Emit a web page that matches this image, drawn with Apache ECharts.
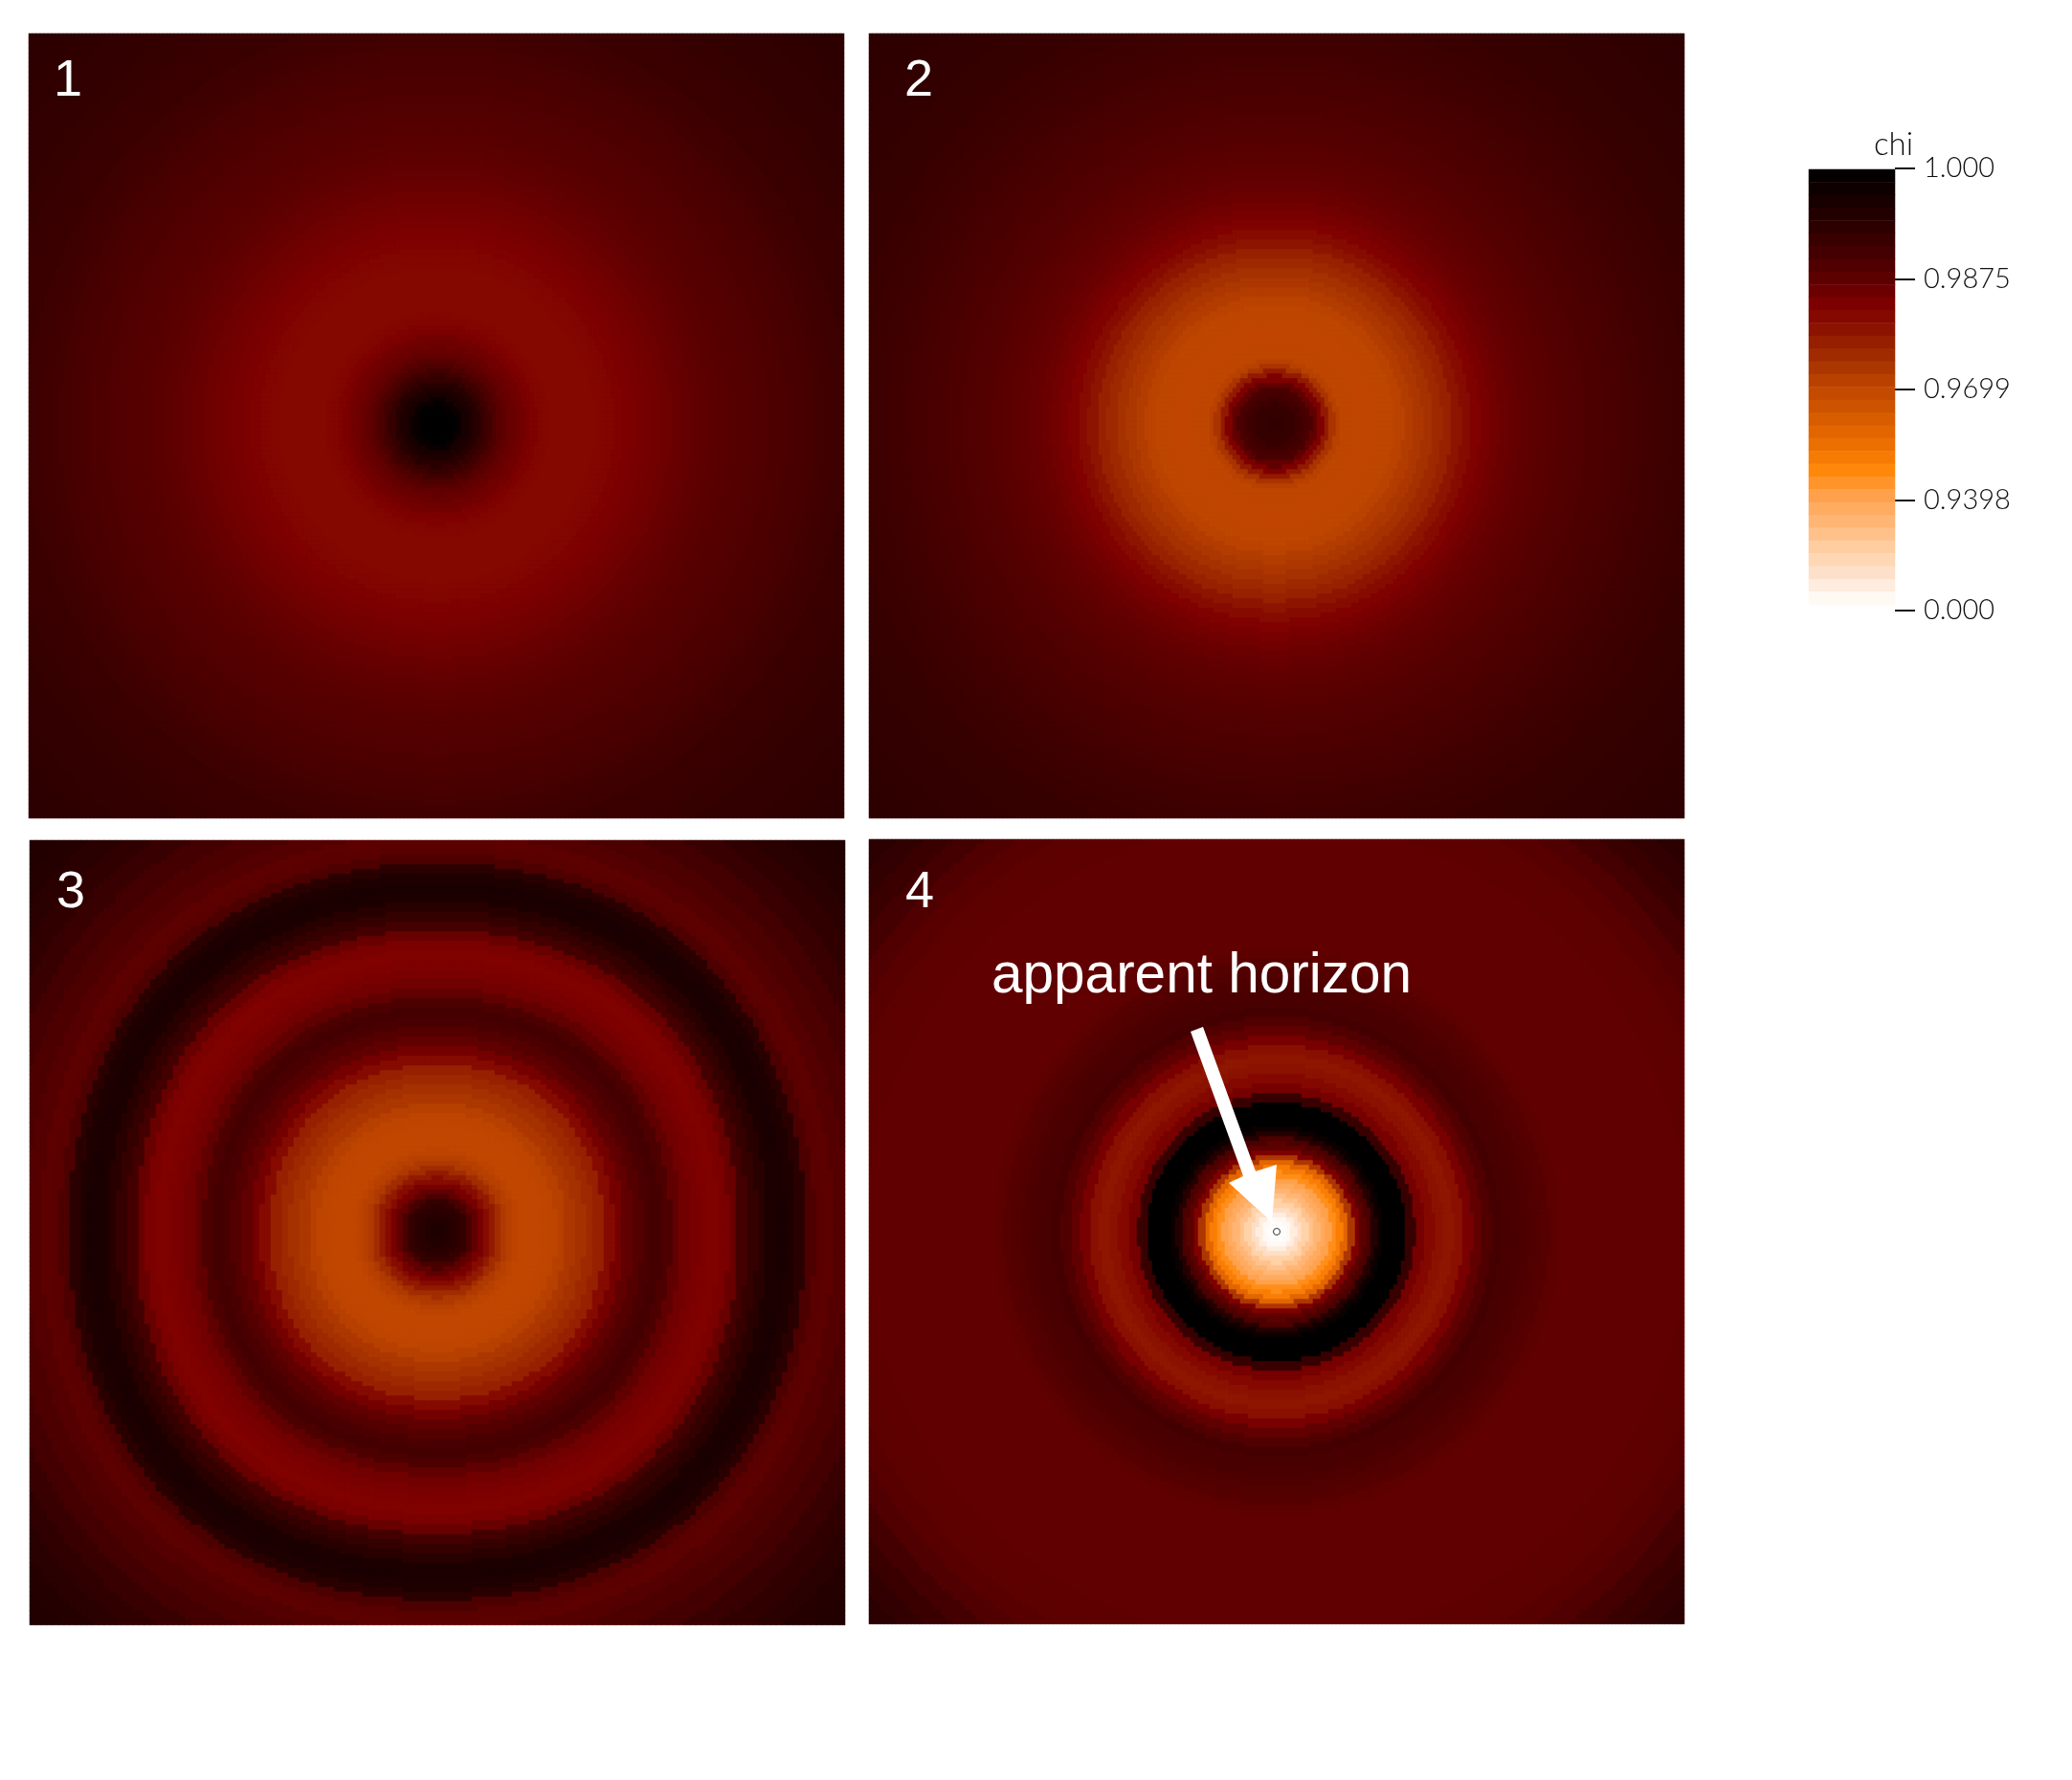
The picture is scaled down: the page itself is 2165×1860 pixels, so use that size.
<!DOCTYPE html>
<html style="height: 100%">
<head>
<meta charset="utf-8">
<script src="https://cdn.jsdelivr.net/npm/echarts@6/dist/echarts.min.js"></script>
</head>
<body style="height: 100%; margin: 0; background: #fff">
<div id="main" style="width: 2165px; height: 1860px;"></div>
<script type="text/javascript">
// colorbar ticks, evenly spaced on the bar but not in value
var tickLabels = ['1.000', '0.9875', '0.9699', '0.9398', '0.000'];
var tickValues = [1, 0.9875, 0.9699, 0.9398, 0];
var scaleColors = ['#000000', '#150000', '#2a0000', '#430000', '#5c0000', '#7e0000', '#8e1600', '#a43000', '#bf4600',
    '#d45800', '#ea6c00', '#ff8606', '#ffa04a', '#ffb778', '#ffd0a4', '#fde4d2', '#ffffff'];

var radii = [0, 6, 12, 18, 24, 30, 36, 42, 48, 54, 60, 66, 72, 78, 84, 90, 96, 102, 108, 114, 120,
    130, 140, 150, 160, 170, 180, 190, 200, 210, 220, 230, 240, 250, 260, 270, 280, 290, 300,
    310, 320, 330, 340, 350, 360, 370, 380, 390, 400, 410, 420, 440, 460, 480, 500, 520, 540, 560, 580, 600, 620];
var chi1 = [1, 1, 1, 0.9997, 0.9985, 0.9965, 0.9955, 0.994, 0.9925, 0.991, 0.9895, 0.988, 0.987, 0.986, 0.9852, 0.9845, 0.9835, 0.9828, 0.9822, 0.9818, 0.9815,
    0.9815, 0.9815, 0.9815, 0.9815, 0.9817, 0.9822, 0.9827, 0.9832, 0.9838, 0.9843, 0.9848, 0.9853, 0.9858, 0.9863, 0.9868, 0.9873, 0.9876, 0.988,
    0.9882, 0.9885, 0.9888, 0.989, 0.9892, 0.9895, 0.9898, 0.99, 0.9903, 0.9906, 0.991, 0.9913, 0.9917, 0.992, 0.9923, 0.9926, 0.9928, 0.993, 0.9932, 0.9934, 0.9935, 0.9937];
var chi2 = [0.993, 0.9928, 0.9925, 0.9922, 0.9915, 0.9905, 0.9897, 0.987, 0.983, 0.978, 0.9735, 0.971, 0.97, 0.9698, 0.9698, 0.9697, 0.9697, 0.9697, 0.9698, 0.9699, 0.97,
    0.9705, 0.9718, 0.973, 0.9741, 0.9755, 0.9768, 0.979, 0.981, 0.9826, 0.9838, 0.9848, 0.9855, 0.9862, 0.9868, 0.9872, 0.9876, 0.988, 0.9884,
    0.9887, 0.989, 0.9893, 0.9895, 0.9898, 0.99, 0.9902, 0.9905, 0.9907, 0.991, 0.9912, 0.9914, 0.9918, 0.9921, 0.9924, 0.9926, 0.9928, 0.993, 0.9931, 0.9932, 0.9933, 0.9935];
var chi3 = [0.9958, 0.9955, 0.995, 0.994, 0.9935, 0.9925, 0.99, 0.987, 0.984, 0.981, 0.978, 0.975, 0.9725, 0.9712, 0.9703, 0.9695, 0.9693, 0.9693, 0.9695, 0.9697, 0.9702,
    0.9712, 0.9728, 0.9741, 0.9755, 0.977, 0.9812, 0.9843, 0.9868, 0.9885, 0.9898, 0.9905, 0.9895, 0.9868, 0.9848, 0.9838, 0.983, 0.9826, 0.9835,
    0.986, 0.9905, 0.9925, 0.994, 0.9958, 0.9962, 0.9955, 0.9938, 0.9895, 0.9878, 0.9875, 0.9885, 0.9895, 0.9905, 0.992, 0.993, 0.9938, 0.9945, 0.995, 0.9955, 0.9955, 0.9955];
var chi4 = [0.01, 0.02, 0.05, 0.15, 0.3, 0.45, 0.6, 0.72, 0.83, 0.92, 0.945, 0.9495, 0.9575, 0.973, 0.983, 0.9875, 0.9895, 0.9945, 0.998, 1, 1,
    1, 0.992, 0.984, 0.9815, 0.9795, 0.9785, 0.98, 0.9838, 0.9868, 0.989, 0.9905, 0.99, 0.9897, 0.9892, 0.9888, 0.9882, 0.9875, 0.987,
    0.987, 0.987, 0.987, 0.987, 0.987, 0.987, 0.987, 0.987, 0.987, 0.987, 0.987, 0.987, 0.9872, 0.9875, 0.988, 0.989, 0.9905, 0.9918, 0.9928, 0.9935, 0.994, 0.9945];

var panels = [
    {name: '1', chi: chi1, left: 30, top: 35, width: 852, height: 820, cx: 457, cy: 443, cellW: 4, square: 0},
    {name: '2', chi: chi2, left: 908, top: 35, width: 852, height: 820, cx: 1332, cy: 443, cellW: 4, square: 0},
    {name: '3', chi: chi3, left: 31, top: 878, width: 852, height: 820, cx: 457, cy: 1287, cellW: 6, square: 0.03},
    {name: '4', chi: chi4, left: 908, top: 877, width: 852, height: 820, cx: 1334, cy: 1287, cellW: 4, square: 0}
];
var cellH = 5;
var bar = {left: 1890, top: 177, width: 90, height: 455, levels: 34};

// position on the colorbar, 0 at the top, 1 at the bottom
function toScale(v) {
    for (var i = 0; i < tickValues.length - 1; i++) {
        if (v >= tickValues[i + 1]) {
            return (i + (tickValues[i] - v) / (tickValues[i] - tickValues[i + 1])) / 4;
        }
    }
    return 1;
}

function nearestChi(chi, r) {
    var best = 0;
    for (var i = 1; i < radii.length; i++) {
        if (Math.abs(radii[i] - r) < Math.abs(radii[best] - r)) best = i;
    }
    return chi[best];
}

function range(n) {
    var a = [];
    for (var i = 0; i < n; i++) a.push(i);
    return a;
}

var grids = [], xAxes = [], yAxes = [], series = [], texts = [];
panels.forEach(function (p, idx) {
    var nx = p.width / p.cellW, ny = p.height / cellH;
    var data = [];
    for (var i = 0; i < nx; i++) {
        for (var j = 0; j < ny; j++) {
            var dx = p.left + (i + 0.5) * p.cellW - p.cx;
            var dy = p.top + p.height - (j + 0.5) * cellH - p.cy;
            var r = Math.sqrt(dx * dx + dy * dy);
            // the rings of panel 3 go a bit square further out
            if (p.square) {
                var s = 2 * dx * dy / (r * r || 1);
                r = r * (1 - p.square * s * s * Math.min(1, r / 250));
            }
            var v = nearestChi(p.chi, r);
            data.push([i, j, v, toScale(v)]);
        }
    }
    grids.push({left: p.left, top: p.top, width: p.width, height: p.height});
    xAxes.push({type: 'category', gridIndex: idx, data: range(nx), show: false});
    yAxes.push({type: 'category', gridIndex: idx, data: range(ny), show: false});
    series.push({
        type: 'heatmap', name: 'panel ' + p.name, xAxisIndex: idx, yAxisIndex: idx, data: data,
        encode: {x: 0, y: 1, value: 2}, progressive: 0, animation: false, silent: true
    });
});

// colorbar
var barData = [];
for (var k = 0; k < bar.levels; k++) {
    var pos = (k + 0.5) / bar.levels;
    barData.push([0, bar.levels - 1 - k, pos, pos]);
}
grids.push({left: bar.left, top: bar.top, width: bar.width, height: bar.height});
xAxes.push({type: 'category', gridIndex: 4, data: [0], show: false});
yAxes.push({type: 'category', gridIndex: 4, data: range(bar.levels), show: false});
grids.push({left: bar.left, top: 176, width: bar.width, height: 462});
xAxes.push({type: 'category', gridIndex: 5, data: [0], show: false});
yAxes.push({
    type: 'value', gridIndex: 5, position: 'right', inverse: true, min: 0, max: 4, interval: 1,
    splitLine: {show: false}, axisLine: {show: false},
    axisTick: {show: true, length: 21, lineStyle: {color: '#111', width: 2}},
    axisLabel: {
        margin: 30, color: '#111', fontFamily: 'Lato', fontWeight: 300, fontSize: 29,
        formatter: function (v) { return tickLabels[v]; }
    }
});
series.push({
    type: 'heatmap', name: 'chi', xAxisIndex: 4, yAxisIndex: 4, data: barData,
    encode: {x: 0, y: 1, value: 2}, progressive: 0, animation: false, silent: true
});

// panel numbers and annotations
[[56, 58], [945, 58], [59, 906], [946, 906]].forEach(function (pos, i) {
    texts.push({
        type: 'text', left: pos[0], top: pos[1], z: 100,
        style: {text: panels[i].name, fill: '#fff', font: '54px "Liberation Sans"'}
    });
});
texts.push({
    type: 'text', left: 1036, top: 991, z: 100,
    style: {text: 'apparent horizon', fill: '#fff', font: '58.5px "Liberation Sans"'}
});
texts.push({
    type: 'text', left: 1958, top: 135, z: 100,
    style: {text: 'chi', fill: '#111', font: '300 33px Lato'}
});
texts.push({
    type: 'polygon', z: 100,
    shape: {points: [[1244, 1078], [1257, 1073], [1312, 1224], [1334, 1217], [1329, 1277], [1284, 1236], [1299, 1229]]},
    style: {fill: '#fff'}
});
texts.push({
    type: 'circle', z: 100, shape: {cx: 1334, cy: 1287, r: 3.5},
    style: {fill: 'none', stroke: '#333', lineWidth: 1}
});

var myChart = echarts.init(document.getElementById('main'), null, {renderer: 'canvas'});
myChart.setOption({
    animation: false,
    backgroundColor: '#fff',
    tooltip: {show: false},
    grid: grids,
    xAxis: xAxes,
    yAxis: yAxes,
    visualMap: {
        show: false, type: 'continuous', dimension: 3, min: 0, max: 1,
        seriesIndex: [0, 1, 2, 3, 4],
        inRange: {color: scaleColors}
    },
    series: series,
    graphic: {elements: texts}
});
</script>
</body>
</html>
